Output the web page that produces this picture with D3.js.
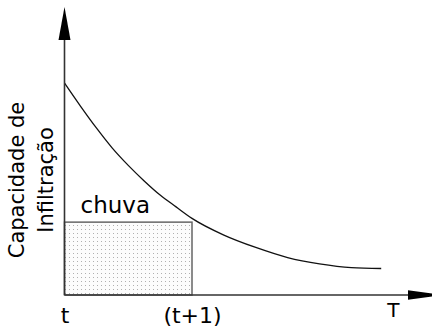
<!DOCTYPE html>
<html>
<head>
<meta charset="utf-8">
<script src="https://cdn.jsdelivr.net/npm/d3@7"></script>
<style>
  body { margin: 0; background: white; }
  svg { display: block; font-family: "DejaVu Sans", Verdana, sans-serif; }
</style>
</head>
<body>
<script>
// data (x: time, t = 0, t+1 = 1 ; y: capacity, arbitrary units)
const curveX = [0, 0.125, 0.25, 0.375, 0.5, 0.625, 0.75, 0.875, 1.0, 1.25, 1.5, 1.75, 2.0, 2.25, 2.484]
const curveY = [73.6, 65.6, 58.0, 51.0, 45.0, 39.6, 34.7, 30.6, 26.6, 20.8, 16.5, 13.0, 10.8, 9.5, 9.2]
const rainStart = 0
const rainEnd = 1
const rainValue = 25.3
const tickValues = [0, 1]
const tickLabels = ["t", "(t+1)"]
const xTitle = "T"
const xTitlePos = 2.58
const yTitleLines = ["Capacidade de", "Infiltração"]
const rainLabel = "chuva"

const w = 432
const h = 329

const xScale = d3.scaleLinear()
                 .domain([0, 1])
                 .range([64.5, 192])
const yScale = d3.scaleLinear()
                 .domain([0, 100])
                 .range([295, 7])

const svg = d3.select("body")
              .append("svg")
              .attr("width", w)
              .attr("height", h)

// dotted fill for the rain block
const pat = svg.append("defs")
               .append("pattern")
               .attr("id", "dots")
               .attr("patternUnits", "userSpaceOnUse")
               .attr("width", 4)
               .attr("height", 4)
pat.append("rect").attr("width", 4).attr("height", 4).attr("fill", "#fcfcfc")
pat.append("rect").attr("x", 1).attr("y", 1).attr("width", 1).attr("height", 1).attr("fill", "#b0b0b0")

svg.append("rect")
   .attr("x", xScale(rainStart))
   .attr("y", yScale(rainValue))
   .attr("width", xScale(rainEnd) - xScale(rainStart))
   .attr("height", yScale(0) - yScale(rainValue))
   .attr("fill", "url(#dots)")
   .attr("stroke", "#666")
   .attr("stroke-width", 1.5)

svg.append("text")
   .attr("x", (xScale(rainStart) + xScale(rainEnd)) / 2 - 13)
   .attr("y", yScale(rainValue) - 9)
   .attr("text-anchor", "middle")
   .attr("font-size", 23)
   .text(rainLabel)

// infiltration capacity curve
const pts = curveX.map((x, i) => [x, curveY[i]])
const line = d3.line()
               .x(d => xScale(d[0]))
               .y(d => yScale(d[1]))
               .curve(d3.curveMonotoneX)
svg.append("path")
   .datum(pts)
   .attr("d", line)
   .attr("fill", "none")
   .attr("stroke", "#111")
   .attr("stroke-width", 1.3)

// axes with arrow heads
const x0 = xScale(0)
const y0 = yScale(0)
svg.append("line")
   .attr("x1", x0).attr("y1", y0)
   .attr("x2", x0).attr("y2", 38)
   .attr("stroke", "#333").attr("stroke-width", 1.6)
svg.append("path")
   .attr("d", `M${x0},${yScale(100)} L${x0 - 6},40 L${x0 + 6},40 Z`)
   .attr("fill", "#000")

svg.append("line")
   .attr("x1", x0).attr("y1", y0)
   .attr("x2", 410).attr("y2", y0)
   .attr("stroke", "#333").attr("stroke-width", 1.6)
svg.append("path")
   .attr("d", `M444,${y0} L408,${y0 - 4.8} L408,${y0 + 4.8} Z`)
   .attr("fill", "#000")

const xAxis = d3.axisBottom(xScale)
                .tickValues(tickValues)
                .tickFormat((d, i) => tickLabels[i])
                .tickSize(0)
                .tickPadding(12)
const gx = svg.append("g")
              .attr("transform", "translate(0," + y0 + ")")
              .call(xAxis)
gx.select(".domain").remove()
gx.selectAll("text")
  .attr("font-family", "DejaVu Sans")
  .attr("font-size", 22)
  .attr("fill", "#000")

svg.append("text")
   .attr("x", xScale(xTitlePos))
   .attr("y", 317)
   .attr("text-anchor", "middle")
   .attr("font-size", 20)
   .text(xTitle)

// y title, rotated
const yt = svg.append("text")
              .attr("transform", "translate(24,180) rotate(-90)")
              .attr("text-anchor", "middle")
              .attr("font-size", 21)
yt.selectAll("tspan")
  .data(yTitleLines)
  .enter()
  .append("tspan")
  .attr("x", 0)
  .attr("dy", (d, i) => i === 0 ? 0 : 29)
  .text(d => d)
</script>
</body>
</html>
